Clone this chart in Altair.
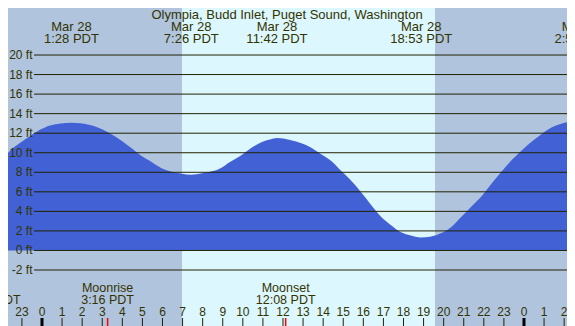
import altair as alt
import pandas as pd

# ---- data ----
tide_hours = [-2.09, -1.59, -1.10, -0.60, 0.0, 0.40, 1.47, 2.39, 2.99, 3.39, 3.98, 4.38,
              4.98, 5.38, 5.98, 6.37, 6.97, 7.43, 7.97, 8.37, 8.96, 9.36, 9.96, 10.36,
              10.95, 11.35, 11.70, 12.35, 12.95, 13.34, 13.94, 14.34, 14.94, 15.34, 15.93,
              16.33, 16.93, 17.33, 17.93, 18.32, 18.88, 19.32, 19.92, 20.32, 20.91, 21.31,
              21.91, 22.31, 22.90, 23.30, 23.90, 24.30, 24.90, 25.30, 25.89, 26.54]
tide_ft = [8.9, 10.2, 11.0, 11.7, 12.45, 12.8, 13.07, 12.85, 12.4, 11.97, 11.2, 10.6,
           9.65, 9.15, 8.4, 8.1, 7.85, 7.75, 7.9, 8.05, 8.5, 9.05, 9.8, 10.4,
           11.1, 11.35, 11.5, 11.3, 10.95, 10.6, 9.8, 9.25, 8.05, 7.25, 5.85,
           4.8, 3.35, 2.65, 1.8, 1.55, 1.33, 1.4, 1.8, 2.3, 3.5, 4.35,
           5.6, 6.65, 8.1, 9.05, 10.25, 11.0, 11.95, 12.5, 13.0, 13.2]

grid_ft = [-2, 0, 2, 4, 6, 8, 10, 12, 14, 16, 18, 20]
grid_labels = [f"{v} ft" for v in grid_ft]

event_hours = [1.467, 7.433, 11.70, 18.883, 26.883]
event_dates = ["Mar 28", "Mar 28", "Mar 28", "Mar 28", "Mar 29"]
event_times = ["1:28 PDT", "7:26 PDT", "11:42 PDT", "18:53 PDT", "2:53 PDT"]

day_start, day_end = [6.97], [19.57]

hour_ticks = list(range(-2, 27))
hour_labels = [str(h % 24) for h in hour_ticks]

moon_hours = [-2.55, 3.267, 12.133]
moon_names = ["", "Moonrise", "Moonset"]
moon_times = ["21:07 PDT", "3:16 PDT", "12:08 PDT"]

title = "Olympia, Budd Inlet, Puget Sound, Washington"

# ---- styling ----
W, H = 575, 326
NIGHT = "#b0c4de"
DAY = "#ddf7ff"
WATER = "#4161d5"
TEXT = "#333300"
LINE = "#222200"
FONT = "Liberation Sans"

xs = alt.Scale(domain=[-2.091, 26.54], nice=False, zero=False)
ys = alt.Scale(domain=[-7.73, 25.63], nice=False, zero=False)

tide = pd.DataFrame({"h": tide_hours, "ft": tide_ft})
grid = pd.DataFrame({"ft": grid_ft, "lab": grid_labels})
events = pd.DataFrame({"h": event_hours, "d": event_dates, "t": event_times})
day = pd.DataFrame({"s": day_start, "e": day_end})
ticks = pd.DataFrame({"h": hour_ticks, "lab": hour_labels,
                      "mid": [h % 24 == 0 for h in hour_ticks]})
moon = pd.DataFrame({"h": moon_hours, "n": moon_names, "t": moon_times})

day_rect = alt.Chart(day).mark_rect(color=DAY).encode(
    x=alt.X("s:Q", scale=xs, axis=None), x2="e:Q",
    y=alt.value(0), y2=alt.value(H))

area = alt.Chart(tide).mark_area(color=WATER, interpolate="monotone").encode(
    x=alt.X("h:Q", scale=xs, axis=None),
    y=alt.Y("ft:Q", scale=ys, axis=None),
    y2=alt.value(H))

gridlines = alt.Chart(grid).mark_rule(color=LINE, strokeWidth=1).encode(
    y=alt.Y("ft:Q", scale=ys, axis=None), x=alt.value(34), x2=alt.value(W))

ylabels = alt.Chart(grid).mark_text(align="right", baseline="middle", font=FONT,
                                     fontSize=12, color=TEXT).encode(
    y=alt.Y("ft:Q", scale=ys, axis=None), x=alt.value(32.5), text="lab:N")

title_t = alt.Chart(pd.DataFrame({"t": [title]})).mark_text(
    align="center", baseline="middle", font=FONT, fontSize=13, color=TEXT).encode(
    x=alt.value(287), y=alt.value(14.5), text="t:N")

ev_date = alt.Chart(events).mark_text(align="center", baseline="middle", font=FONT,
                                       fontSize=13, color=TEXT).encode(
    x=alt.X("h:Q", scale=xs, axis=None), y=alt.value(26.5), text="d:N")
ev_time = alt.Chart(events).mark_text(align="center", baseline="middle", font=FONT,
                                       fontSize=13, color=TEXT).encode(
    x=alt.X("h:Q", scale=xs, axis=None), y=alt.value(39), text="t:N")

hour_tick = alt.Chart(ticks).transform_filter("!datum.mid").mark_rule(
    color=LINE, strokeWidth=1).encode(
    x=alt.X("h:Q", scale=xs, axis=None), y=alt.value(318), y2=alt.value(H))
mid_tick = alt.Chart(ticks).transform_filter("datum.mid").mark_rule(
    color="#000000", strokeWidth=3).encode(
    x=alt.X("h:Q", scale=xs, axis=None), y=alt.value(318), y2=alt.value(H))
hour_lab = alt.Chart(ticks).mark_text(align="center", baseline="middle", font=FONT,
                                       fontSize=12, color=TEXT).encode(
    x=alt.X("h:Q", scale=xs, axis=None), y=alt.value(311.5), text="lab:N")

moon_tick = alt.Chart(moon).mark_rule(color="#ff0000", strokeWidth=1.5).encode(
    x=alt.X("h:Q", scale=xs, axis=None), y=alt.value(318), y2=alt.value(H))
moon_name = alt.Chart(moon).mark_text(align="center", baseline="middle", font=FONT,
                                       fontSize=12.5, color=TEXT).encode(
    x=alt.X("h:Q", scale=xs, axis=None), y=alt.value(287.5), text="n:N")
moon_time = alt.Chart(moon).mark_text(align="center", baseline="middle", font=FONT,
                                       fontSize=12.5, color=TEXT).encode(
    x=alt.X("h:Q", scale=xs, axis=None), y=alt.value(299.5), text="t:N")

chart = alt.layer(
    day_rect, area, gridlines, ylabels, title_t, ev_date, ev_time,
    hour_tick, mid_tick, moon_tick, hour_lab, moon_name, moon_time
).properties(
    width=W, height=H,
    autosize=alt.AutoSizeParams(type="none"),
    padding={"left": -8, "top": -8, "right": -8, "bottom": 0},
    background=NIGHT,
).configure_view(strokeWidth=0)

chart.save("out.html", embed_options={"renderer": "svg", "actions": False})
